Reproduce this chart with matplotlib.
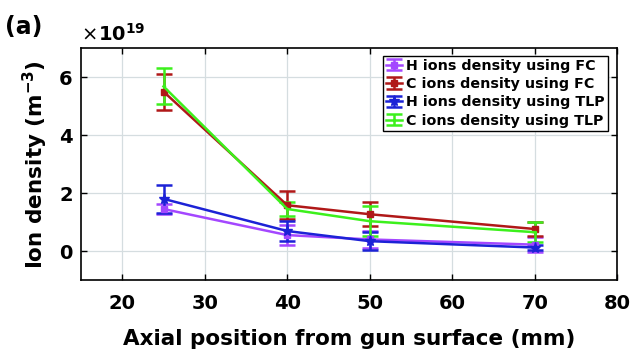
import matplotlib
matplotlib.use("Agg")
import matplotlib.pyplot as plt
from matplotlib.legend_handler import HandlerErrorbar

plt.rcParams['font.family'] = ['DejaVu Sans']
plt.rcParams['mathtext.fontset'] = 'dejavusans'

x = [25, 40, 50, 70]
h_fc = [1.45, 0.55, 0.40, 0.22]
h_fc_err = [0.17, 0.35, 0.30, 0.25]
c_fc = [5.50, 1.58, 1.27, 0.76]
c_fc_err = [0.62, 0.48, 0.42, 0.25]
h_tlp = [1.80, 0.69, 0.34, 0.12]
h_tlp_err = [0.48, 0.33, 0.32, 0.10]
c_tlp = [5.68, 1.45, 1.03, 0.65]
c_tlp_err = [0.62, 0.25, 0.52, 0.35]
labels = ["H ions density using FC", "C ions density using FC",
          "H ions density using TLP", "C ions density using TLP"]
xticks = [20, 30, 40, 50, 60, 70, 80]
yticks = [0, 2, 4, 6]

fig = plt.figure(figsize=(6.33, 3.54), dpi=100)
ax = fig.add_axes([0.128, 0.209, 0.847, 0.655])

series = [
    (h_fc, h_fc_err, '#a447ff', 's', 4),
    (c_fc, c_fc_err, '#b01818', 's', 4),
    (h_tlp, h_tlp_err, '#1c22d6', '*', 8),
    (c_tlp, c_tlp_err, '#3cf01c', '.', 3),
]
containers = []
for (y, e, col, m, ms), lab in zip(series, labels):
    c = ax.errorbar(x, y, yerr=e, color=col, marker=m, markersize=ms, lw=1.8,
                    elinewidth=1.8, capsize=6, capthick=1.8, label=lab)
    containers.append(c)

ax.set_xlim(15, 80)
ax.set_ylim(-1, 7)
ax.set_xticks(xticks)
ax.set_yticks(yticks)
ax.grid(True, color='#d5dde0', lw=0.9)
ax.set_axisbelow(True)
ax.tick_params(direction='in', top=True, right=True, length=4, width=1,
               labelsize=14)
ax.tick_params(axis='x', pad=10)
ax.tick_params(axis='y', pad=6)
for t in ax.get_xticklabels() + ax.get_yticklabels():
    t.set_fontweight('bold')
for s in ax.spines.values():
    s.set_linewidth(1.2)

ax.set_xlabel("Axial position from gun surface (mm)", fontsize=15.5,
              fontweight='bold')
ax.set_ylabel("Ion density (m$^{\\mathbf{-3}}$)", fontsize=15.5,
              fontweight='bold')
ax.xaxis.set_label_coords(0.5, -0.21)
ax.yaxis.set_label_coords(-0.058, 0.5)

hmap = {c: HandlerErrorbar(yerr_size=0.4, numpoints=1) for c in containers}
leg = ax.legend(loc='upper right', bbox_to_anchor=(0.99, 0.985),
                fancybox=False, edgecolor='black', framealpha=1,
                prop={'weight': 'bold', 'size': 10.3}, handlelength=1.1,
                handletextpad=0.3, borderpad=0.2, labelspacing=0.3,
                borderaxespad=0.3, handler_map=hmap)
leg.get_frame().set_linewidth(1.0)
for h in leg.legend_handles:
    pass

fig.text(0.008, 0.905, "(a)", fontsize=17, fontweight='bold')
fig.text(0.128, 0.885, "×", fontsize=14)
fig.text(0.155, 0.885, "10$^{\\mathbf{19}}$", fontsize=14, fontweight='bold')

fig.savefig("out.png", dpi=100)
